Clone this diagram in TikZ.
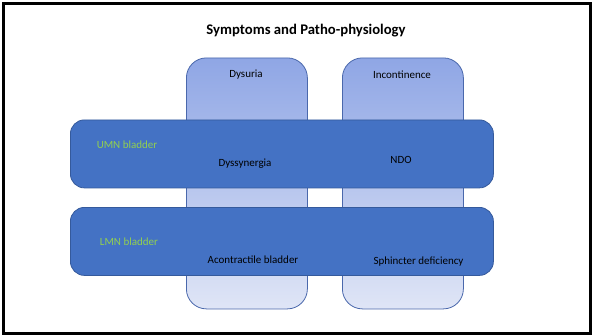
\documentclass[tikz,border=0pt]{standalone}
\usepackage{fontspec}
\setmainfont{Carlito}
\begin{document}
\begin{tikzpicture}[x=1pt,y=-1pt,
  symptom/.style={draw=symline, line width=0.8pt, rounded corners=20pt,
    top color=symtop, bottom color=symbot, minimum width=121pt,
    minimum height=251pt, inner sep=0pt, anchor=north west},
  level/.style={draw=barline, line width=0.8pt, fill=barfill, rounded corners=14pt,
    minimum width=423pt, minimum height=68pt, inner sep=0pt, anchor=north west},
  lbl/.style={font=\fontsize{11}{13}\selectfont, text=black, inner sep=0pt},
  grn/.style={font=\fontsize{11}{13}\selectfont, text=lvlgreen, inner sep=0pt}]
\definecolor{symtop}{HTML}{8FA6E5}
\definecolor{symbot}{HTML}{DFE5F6}
\definecolor{symline}{HTML}{4A68AC}
\definecolor{barfill}{HTML}{4472C4}
\definecolor{barline}{HTML}{355A9C}
\definecolor{lvlgreen}{HTML}{92D050}
\useasboundingbox (0,0) rectangle (595,335);
\fill[white] (0,0) rectangle (595,335);
\draw[line width=3pt] (3.5,3) rectangle (590,333);

\node[font=\bfseries\fontsize{14.7}{17}\selectfont] (title) at (306,31) {Symptoms and Patho-physiology};

% symptom columns
\node[symptom] (dys) at (186,57.5) {};
\node[symptom] (inc) at (342,57.5) {};
\node[lbl] (dyst) at (246,75) {Dysuria};
\node[lbl] (inct) at (402,75) {Incontinence};

% neurological levels
\node[level] (umn) at (70,119.5) {};
\node[level] (lmn) at (70,207) {};

\node[grn] (umnt) at (127,145) {UMN bladder};
\node[lbl] (dssy) at (245,163.5) {Dyssynergia};
\node[lbl] (ndo) at (401,159.5) {NDO};

\node[grn] (lmnt) at (129,241.5) {LMN bladder};
\node[lbl] (acon) at (253,259.5) {Acontractile bladder};
\node[lbl] (sphd) at (418.5,261.5) {Sphincter deficiency};
\end{tikzpicture}
\end{document}
